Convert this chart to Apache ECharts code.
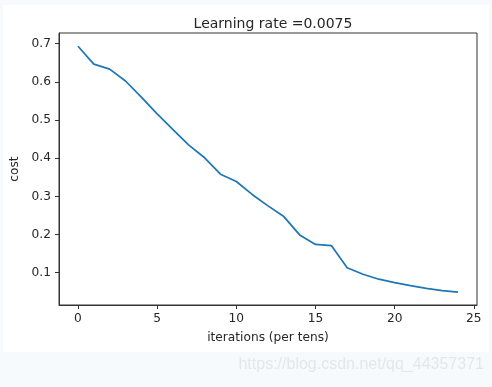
<!DOCTYPE html>
<html>
<head>
<meta charset="utf-8">
<script src="https://cdn.jsdelivr.net/npm/echarts@6/dist/echarts.min.js"></script>
<style>
html,body{margin:0;padding:0;background:#f7fafd;}
#chart{width:492px;height:387px;}
</style>
</head>
<body>
<div id="chart"></div>
<script>
// iterations (per tens)
const iterations = [0,1,2,3,4,5,6,7,8,9,10,11,12,13,14,15,16,17,18,19,20,21,22,23,24];
// cost values
const costs = [0.693, 0.646, 0.633, 0.602, 0.560, 0.516, 0.475, 0.434, 0.401, 0.358,
               0.339, 0.305, 0.275, 0.247, 0.199, 0.174, 0.171, 0.113, 0.096, 0.083,
               0.074, 0.066, 0.059, 0.053, 0.049];
const xTicks = [0, 5, 10, 15, 20, 25];
const yTicks = [0.1, 0.2, 0.3, 0.4, 0.5, 0.6, 0.7];
const titleText = 'Learning rate =0.0075';
const xName = 'iterations (per tens)';
const yName = 'cost';
const watermark = 'https://blog.csdn.net/qq_44357371';

const chart = echarts.init(document.getElementById('chart'), null, {renderer: 'canvas'});
const font = 'DejaVu Sans';
const textColor = '#262626';
const fs = 12.2;
chart.setOption({
  animation: false,
  backgroundColor: 'transparent',
  graphic: [
    {type: 'rect', z: -10, shape: {x: 3, y: 5, width: 486, height: 347}, style: {fill: '#ffffff'}},
    {type: 'text', right: 8, top: 357, style: {text: watermark, fill: '#e3e7ec', font: '16px "Liberation Sans"'}}
  ],
  title: {
    text: titleText, left: 268, top: 12, textAlign: 'center',
    textStyle: {fontFamily: font, fontSize: 14, fontWeight: 'normal', color: textColor}
  },
  grid: {left: 59, right: 15, top: 33, bottom: 82, show: true, borderColor: '#333', borderWidth: 1, backgroundColor: '#fff'},
  xAxis: {
    type: 'value', min: -1.2, max: 25.2,
    name: xName, nameLocation: 'middle', nameGap: 27,
    nameTextStyle: {fontFamily: font, fontSize: fs, color: textColor},
    axisLine: {show: true, onZero: false, lineStyle: {color: '#333'}},
    axisTick: {show: true, length: 4, customValues: xTicks, lineStyle: {color: '#333'}},
    axisLabel: {customValues: xTicks, margin: 8, fontFamily: font, fontSize: fs, color: textColor},
    splitLine: {show: false}
  },
  yAxis: {
    type: 'value', min: 0.0155, max: 0.7277,
    name: yName, nameLocation: 'middle', nameGap: 37, nameRotate: 90,
    nameTextStyle: {fontFamily: font, fontSize: fs, color: textColor},
    axisLine: {show: true, onZero: false, lineStyle: {color: '#333'}},
    axisTick: {show: true, length: 4, customValues: yTicks, lineStyle: {color: '#333'}},
    axisLabel: {customValues: yTicks, margin: 8, fontFamily: font, fontSize: fs, color: textColor,
      formatter: v => v.toFixed(1)},
    splitLine: {show: false}
  },
  series: [{
    type: 'line',
    data: iterations.map((x, i) => [x, costs[i]]),
    showSymbol: false,
    lineStyle: {color: '#1f77b4', width: 1.75},
    itemStyle: {color: '#1f77b4'}
  }]
});
</script>
</body>
</html>
